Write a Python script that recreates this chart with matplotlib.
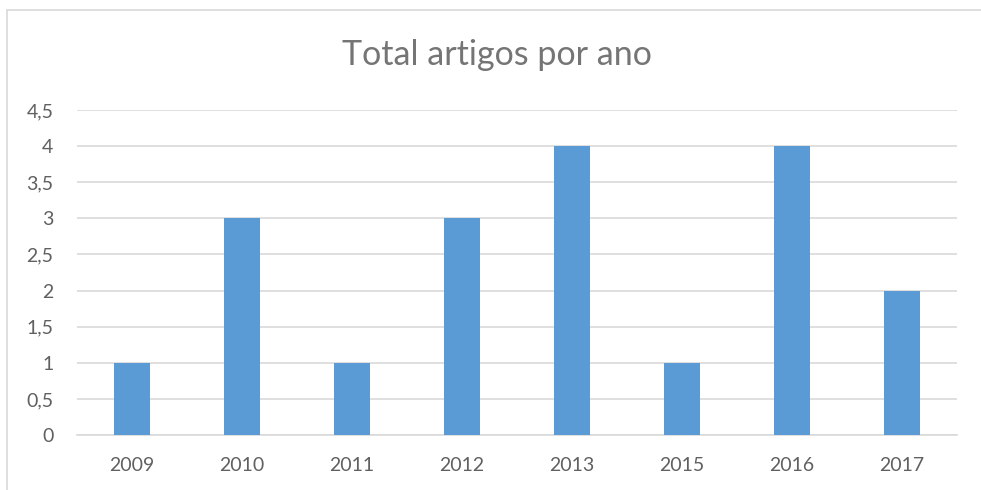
import matplotlib
matplotlib.use("Agg")
import matplotlib.pyplot as plt
from matplotlib.patches import Rectangle
from matplotlib.ticker import FuncFormatter, MultipleLocator

years = ["2009", "2010", "2011", "2012", "2013", "2015", "2016", "2017"]
counts = [1, 3, 1, 3, 4, 1, 4, 2]
title = "Total artigos por ano"

plt.rcParams['font.family'] = ['Lato', 'DejaVu Sans']
W, H = 981, 490
fig = plt.figure(figsize=(W/100, H/100), dpi=100)
ax = fig.add_axes([77/W, 1-435/H, (957-77)/W, (435-110)/H])

ax.bar(range(len(years)), counts, width=0.32, color="#5b9bd5", zorder=3)
ax.set_xlim(-0.5, len(years)-0.5)
ax.set_ylim(0, 4.5)
ax.yaxis.set_major_locator(MultipleLocator(0.5))
ax.yaxis.set_major_formatter(FuncFormatter(lambda v, p: (f"{v:g}").replace(".", ",")))
ax.set_xticks(range(len(years)))
ax.set_xticklabels(years)
ax.grid(axis="y", color="#d9d9d9", linewidth=1.2, zorder=0)
for s in ["top", "right", "left"]:
    ax.spines[s].set_visible(False)
ax.spines["bottom"].set_color("#d9d9d9")
ax.spines["bottom"].set_linewidth(1.2)
ax.tick_params(axis="both", length=0, labelsize=14, colors="#606060")
ax.tick_params(axis="y", pad=17)
ax.tick_params(axis="x", pad=16)

fig.text(497/W, 1-55/H, title, ha="center", va="center", fontsize=24.5, color="#757575")

fig.add_artist(Rectangle((7/W, -0.1), 1.2, 1.1 - 10/H, transform=fig.transFigure,
                         fill=False, edgecolor="#d9d9d9", linewidth=1.2))

fig.savefig("out.png", dpi=100)
